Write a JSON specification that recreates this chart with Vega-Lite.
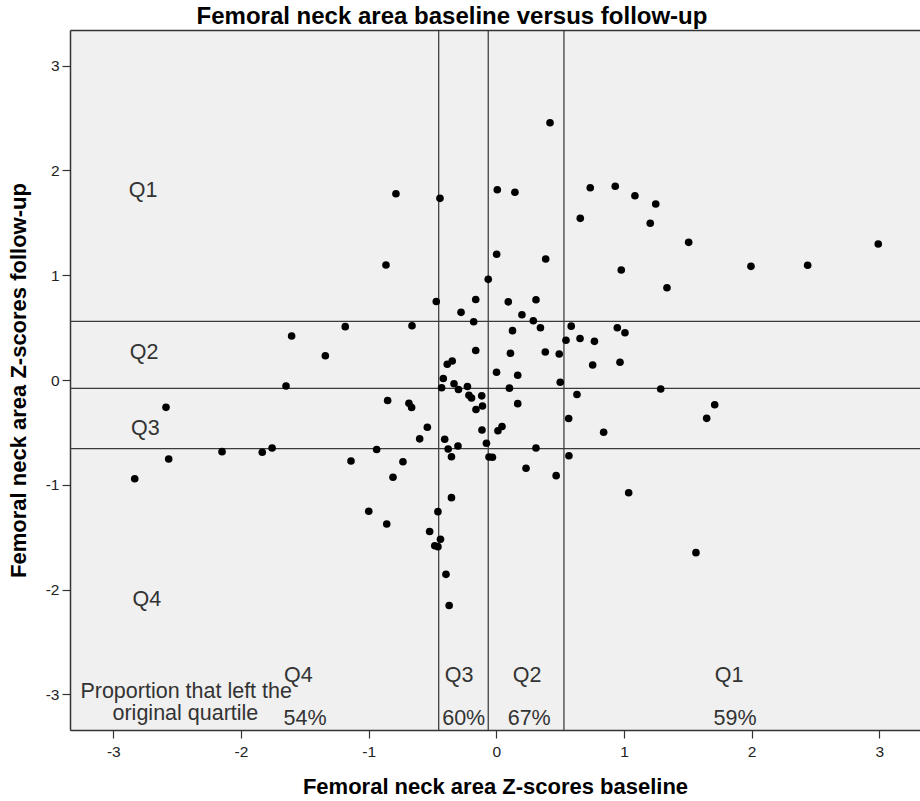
{
  "$schema": "https://vega.github.io/schema/vega-lite/v6.json",
  "width": 850,
  "height": 700,
  "autosize": {"type": "none"},
  "padding": {"left": 70, "top": 30, "right": 0, "bottom": 71},
  "background": "white",
  "title": {"text": "Femoral neck area baseline versus follow-up", "font": "Liberation Sans", "fontSize": 24, "fontWeight": "bold", "color": "#000", "anchor": "middle", "frame": "group", "dx": -43, "dy": 24, "offset": 5, "baseline": "alphabetic"},
  "datasets": {
    "points": [
      {"baseline":0.421,"followup":2.456},{"baseline":-0.786,"followup":1.778},{"baseline":-0.441,"followup":1.734},{"baseline":0.008,"followup":1.816},{"baseline":0.146,"followup":1.792},{"baseline":0.736,"followup":1.835},{"baseline":0.932,"followup":1.849},{"baseline":1.086,"followup":1.759},{"baseline":1.249,"followup":1.680},{"baseline":0.658,"followup":1.543},{"baseline":1.206,"followup":1.496},{"baseline":1.507,"followup":1.314},{"baseline":2.992,"followup":1.298},{"baseline":0.003,"followup":1.200},{"baseline":0.387,"followup":1.155},{"baseline":-0.864,"followup":1.098},{"baseline":0.979,"followup":1.050},{"baseline":1.995,"followup":1.085},{"baseline":2.439,"followup":1.095},{"baseline":1.337,"followup":0.881},{"baseline":-0.063,"followup":0.961},
      {"baseline":-0.161,"followup":0.768},{"baseline":0.094,"followup":0.746},{"baseline":0.311,"followup":0.766},{"baseline":-0.470,"followup":0.749},{"baseline":-0.276,"followup":0.646},{"baseline":0.201,"followup":0.623},{"baseline":-0.177,"followup":0.556},{"baseline":0.290,"followup":0.566},{"baseline":-0.660,"followup":0.518},{"baseline":-1.183,"followup":0.509},{"baseline":0.346,"followup":0.499},{"baseline":0.127,"followup":0.471},{"baseline":0.587,"followup":0.514},{"baseline":0.948,"followup":0.499},{"baseline":1.008,"followup":0.451},{"baseline":-1.603,"followup":0.420},{"baseline":0.546,"followup":0.380},{"baseline":0.656,"followup":0.396},{"baseline":0.769,"followup":0.369},{"baseline":-0.161,"followup":0.282},{"baseline":0.111,"followup":0.255},{"baseline":0.384,"followup":0.267},{"baseline":0.493,"followup":0.248},{"baseline":-1.339,"followup":0.232},{"baseline":-0.345,"followup":0.181},{"baseline":-0.384,"followup":0.150},{"baseline":0.755,"followup":0.143},{"baseline":0.969,"followup":0.170},{"baseline":0.002,"followup":0.074},{"baseline":0.168,"followup":0.045},{"baseline":-0.415,"followup":0.014},{"baseline":0.501,"followup":-0.022},{"baseline":-1.647,"followup":-0.057},{"baseline":-0.428,"followup":-0.074},{"baseline":-0.331,"followup":-0.036},{"baseline":-0.296,"followup":-0.091},{"baseline":-0.226,"followup":-0.062},{"baseline":0.103,"followup":-0.078},{"baseline":1.288,"followup":-0.086},{"baseline":-0.214,"followup":-0.145},{"baseline":-0.194,"followup":-0.172},{"baseline":-0.114,"followup":-0.151},{"baseline":0.632,"followup":-0.138},{"baseline":-0.851,"followup":-0.196},{"baseline":-0.684,"followup":-0.222},{"baseline":-0.663,"followup":-0.262},{"baseline":-2.587,"followup":-0.261},{"baseline":0.168,"followup":-0.226},{"baseline":-0.159,"followup":-0.282},{"baseline":-0.108,"followup":-0.248},{"baseline":1.711,"followup":-0.236},{"baseline":1.648,"followup":-0.366},{"baseline":0.567,"followup":-0.367},{"baseline":-0.540,"followup":-0.451},{"baseline":-0.112,"followup":-0.477},{"baseline":0.013,"followup":-0.484},{"baseline":0.045,"followup":-0.444},{"baseline":0.841,"followup":-0.499},{"baseline":-0.600,"followup":-0.562},{"baseline":-0.404,"followup":-0.566},{"baseline":-0.077,"followup":-0.604},{"baseline":-0.300,"followup":-0.630},{"baseline":-0.377,"followup":-0.659},{"baseline":-0.937,"followup":-0.663},{"baseline":-1.756,"followup":-0.649},{"baseline":0.311,"followup":-0.649},{"baseline":-2.148,"followup":-0.684},{"baseline":-1.833,"followup":-0.690},{"baseline":-0.351,"followup":-0.733},{"baseline":-0.057,"followup":-0.735},{"baseline":-0.030,"followup":-0.737},{"baseline":0.569,"followup":-0.723},{"baseline":-2.566,"followup":-0.754},{"baseline":-1.138,"followup":-0.773},{"baseline":-0.731,"followup":-0.780},{"baseline":0.233,"followup":-0.842},{"baseline":0.469,"followup":-0.913},{"baseline":-0.809,"followup":-0.928},{"baseline":-2.832,"followup":-0.942},{"baseline":1.037,"followup":-1.076},{"baseline":-0.351,"followup":-1.123},{"baseline":-0.999,"followup":-1.253},{"baseline":-0.457,"followup":-1.257},{"baseline":-0.858,"followup":-1.374},{"baseline":-0.522,"followup":-1.446},{"baseline":-0.437,"followup":-1.520},{"baseline":-0.482,"followup":-1.582},{"baseline":-0.457,"followup":-1.591},{"baseline":-0.394,"followup":-1.855},{"baseline":-0.369,"followup":-2.152},{"baseline":1.564,"followup":-1.648}
    ],
    "vlines": [{"baseline": -0.451}, {"baseline": -0.063}, {"baseline": 0.530}],
    "hlines": [{"followup": 0.560}, {"followup": -0.079}, {"followup": -0.656}],
    "labels": [
      {"label": "Q1", "baseline": -2.767, "followup": 1.750},
      {"label": "Q2", "baseline": -2.758, "followup": 0.198},
      {"label": "Q3", "baseline": -2.748, "followup": -0.525},
      {"label": "Q4", "baseline": -2.737, "followup": -2.157},
      {"label": "Q4", "baseline": -1.551, "followup": -2.885},
      {"label": "Q3", "baseline": -0.292, "followup": -2.885},
      {"label": "Q2", "baseline": 0.242, "followup": -2.885},
      {"label": "Q1", "baseline": 1.823, "followup": -2.885},
      {"label": "Proportion that left the", "baseline": -2.429, "followup": -3.038},
      {"label": "original quartile", "baseline": -2.435, "followup": -3.248},
      {"label": "54%", "baseline": -1.498, "followup": -3.29},
      {"label": "60%", "baseline": -0.255, "followup": -3.29},
      {"label": "67%", "baseline": 0.258, "followup": -3.29},
      {"label": "59%", "baseline": 1.870, "followup": -3.29}
    ]
  },
  "layer": [
    {
      "data": {"name": "vlines"},
      "mark": {"type": "rule", "color": "#333", "strokeWidth": 1.2},
      "encoding": {
        "x": {"field": "baseline", "type": "quantitative", "scale": {"domain": [-3.339, 3.319], "nice": false, "zero": false}, "axis": {"orient": "top", "labels": false, "ticks": false, "title": null, "domain": true}}
      }
    },
    {
      "data": {"name": "hlines"},
      "mark": {"type": "rule", "color": "#3a3a3a", "strokeWidth": 1.3},
      "encoding": {
        "y": {"field": "followup", "type": "quantitative", "scale": {"domain": [-3.341, 3.341], "nice": false, "zero": false}, "axis": {"orient": "left", "values": [-3, -2, -1, 0, 1, 2, 3], "labelExpr": "'' + datum.value", "title": "Femoral neck area Z-scores follow-up", "titleX": -45, "titleY": 350, "titleAngle": 270, "titleBaseline": "alphabetic", "titleAlign": "center", "labelPadding": 3}}
      }
    },
    {
      "data": {"name": "points"},
      "mark": {"type": "point", "filled": true, "size": 58, "color": "#000", "opacity": 1},
      "encoding": {
        "x": {"field": "baseline", "type": "quantitative", "scale": {"domain": [-3.339, 3.319], "nice": false, "zero": false}, "axis": {"orient": "bottom", "values": [-3, -2, -1, 0, 1, 2, 3], "labelExpr": "'' + datum.value", "title": "Femoral neck area Z-scores baseline", "titleX": 425, "titleY": 63, "titleBaseline": "alphabetic", "titleAlign": "center", "labelPadding": 6}},
        "y": {"field": "followup", "type": "quantitative", "scale": {"domain": [-3.341, 3.341], "nice": false, "zero": false}, "axis": {"orient": "left", "values": [-3, -2, -1, 0, 1, 2, 3], "labelExpr": "'' + datum.value", "title": "Femoral neck area Z-scores follow-up", "titleX": -45, "titleY": 350, "titleAngle": 270, "titleBaseline": "alphabetic", "titleAlign": "center", "labelPadding": 3}}
      }
    },
    {
      "data": {"name": "labels"},
      "mark": {"type": "text", "font": "Liberation Sans", "fontSize": 21.5, "color": "#333", "align": "center", "baseline": "alphabetic"},
      "encoding": {
        "x": {"field": "baseline", "type": "quantitative", "scale": {"domain": [-3.339, 3.319], "nice": false, "zero": false}, "axis": null},
        "y": {"field": "followup", "type": "quantitative", "scale": {"domain": [-3.341, 3.341], "nice": false, "zero": false}, "axis": {"orient": "left", "values": [-3, -2, -1, 0, 1, 2, 3], "labelExpr": "'' + datum.value", "title": "Femoral neck area Z-scores follow-up", "titleX": -45, "titleY": 350, "titleAngle": 270, "titleBaseline": "alphabetic", "titleAlign": "center", "labelPadding": 3}},
        "text": {"field": "label", "type": "nominal"}
      }
    }
  ],
  "resolve": {"axis": {"x": "independent"}},
  "config": {
    "view": {"stroke": null, "fill": "#f0f0f0"},
    "axis": {"grid": false, "domainColor": "#333", "domainWidth": 1.5, "tickColor": "#333", "tickSize": 8, "tickWidth": 1.2, "labelFont": "Liberation Sans", "labelFontSize": 15.5, "labelColor": "#222", "titleFont": "Liberation Sans", "titleFontSize": 22, "titleFontWeight": "bold", "titleColor": "#000"}
  }
}
